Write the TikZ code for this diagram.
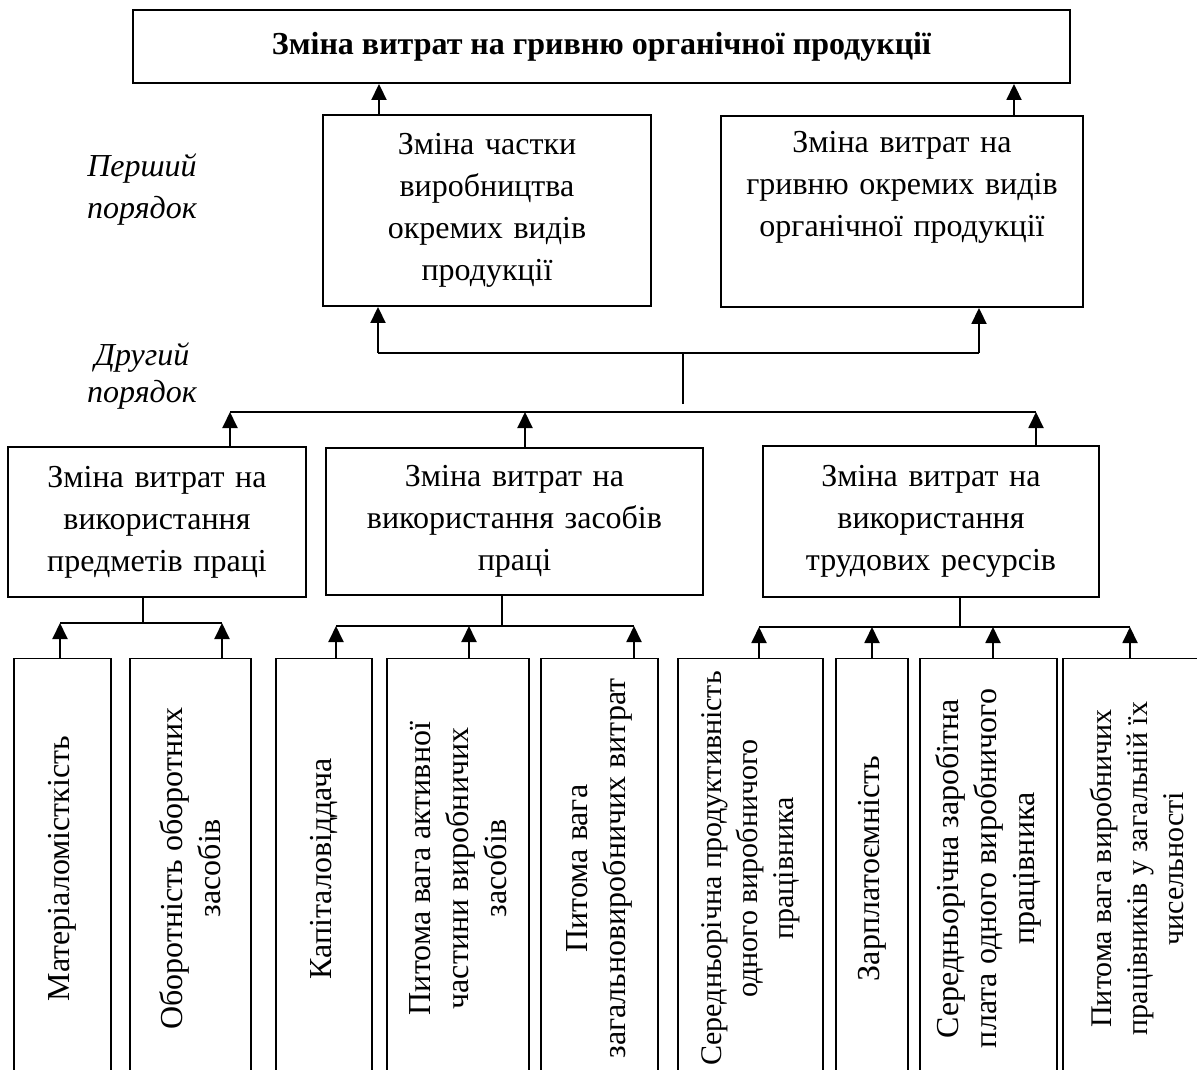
\documentclass[tikz,border=0pt]{standalone}
\usepackage{fontspec}
\usepackage{graphicx}
\setmainfont{Liberation Serif}
\usetikzlibrary{arrows.meta}
\newcommand{\vtext}[1]{\rotatebox{90}{\parbox{420pt}{\centering #1}}}
\begin{document}
\begin{tikzpicture}[x=1pt,y=-1pt,
  box/.style={draw,line width=1.9pt,rectangle,inner sep=0pt,align=center,
              font=\fontsize{32}{42}\selectfont},
  vbox/.style={draw,line width=1.9pt,rectangle,inner sep=0pt,
              minimum height=413pt,font=\fontsize{32}{38}\selectfont},
  small/.style={font=\fontsize{30}{36}\selectfont},
  con/.style={line width=1.9pt},
  arr/.style={line width=1.9pt,-{Triangle[length=16pt,width=15pt]}},
  lab/.style={align=center,font=\fontsize{32}{42}\selectfont\itshape},
]
\useasboundingbox (0,0) rectangle (1197,1070);
\clip (0,0) rectangle (1197,1070);
\fill[white] (0,0) rectangle (1197,1070);

% top
\node[box,minimum width=937pt,minimum height=73pt,font=\fontsize{32}{42}\selectfont\bfseries]
  (top) at (601.5,46.5) {Зміна витрат на гривню органічної продукції};

% first order
\node[box,minimum width=328pt,minimum height=191pt,text width=320pt] (b1) at (487,210.5)
  {Зміна частки\\ виробництва\\ окремих видів\\ продукції};
\node[box,minimum width=362pt,minimum height=191pt,text width=354pt] (b2) at (902,211.5)
  {Зміна витрат на\\ гривню окремих видів\\ органічної продукції\\ \strut};

\node[lab] (l1) at (142,190) {Перший\\ порядок};
\node[lab,font=\fontsize{32}{37}\selectfont\itshape] (l2) at (142,376) {Другий\\ порядок};

% second order
\node[box,minimum width=298pt,minimum height=150pt,text width=290pt] (bA) at (157,522)
  {Зміна витрат на\\ використання\\ предметів праці};
\node[box,minimum width=377pt,minimum height=147pt,text width=369pt] (bB) at (514.5,521.5)
  {Зміна витрат на\\ використання засобів\\ праці};
\node[box,minimum width=336pt,minimum height=151pt,text width=328pt] (bC) at (931,521.5)
  {Зміна витрат на\\ використання\\ трудових ресурсів};

% third level
\node[vbox,minimum width=97pt] (v1) at (62.5,868.5) {\vtext{Матеріаломісткість}};
\node[vbox,minimum width=121pt] (v2) at (190.5,868.5) {\vtext{Оборотність оборотних\\ засобів}};
\node[vbox,minimum width=96pt] (v3) at (324,868.5) {\vtext{Капіталовіддача}};
\node[vbox,minimum width=142pt] (v4) at (458,868.5) {\vtext{Питома вага активної\\ частини виробничих\\ засобів}};
\node[vbox,minimum width=117pt] (v5) at (599.5,868.5) {\vtext{Питома вага\\ загальновиробничих витрат}};
\node[vbox,small,minimum width=145pt] (v6) at (750.5,868.5) {\vtext{Середньорічна продуктивність\\ одного виробничого\\ працівника}};
\node[vbox,minimum width=72pt] (v7) at (872,868.5) {\vtext{Зарплатоємність}};
\node[vbox,minimum width=137pt] (v8) at (988.5,868.5) {\vtext{Середньорічна заробітна\\ плата одного виробничого\\ працівника}};
\node[vbox,small,minimum width=148pt] (v9) at (1137,868.5) {\vtext{Питома вага виробничих\\ працівників у загальній їх\\ чисельності}};

% arrows to top
\draw[arr] (b1.north -| 379,0) -- (top.south -| 379,0);
\draw[arr] (b2.north -| 1014,0) -- (top.south -| 1014,0);

% bus 1
\coordinate (p1L) at (378,353);
\coordinate (p1R) at (979,353);
\coordinate (j1) at (683,404);
\draw[con] (p1L) -- (p1R);
\draw[arr] (p1L) -- (b1.south -| p1L);
\draw[arr] (p1R) -- (b2.south -| p1R);
\draw[con] (j1) -- (j1 |- p1L);

% bus 2
\coordinate (p2L) at (230,412);
\coordinate (p2M) at (525,412);
\coordinate (p2R) at (1036,412);
\draw[con] (p2L) -- (p2R);
\draw[arr] (bA.north -| p2L) -- (p2L);
\draw[arr] (bB.north -| p2M) -- (p2M);
\draw[arr] (bC.north -| p2R) -- (p2R);

% bus A
\coordinate (qA) at (143,623);
\coordinate (qA1) at (60,623);
\coordinate (qA2) at (222,623);
\draw[con] (bA.south -| qA) -- (qA);
\draw[con] (qA1) -- (qA2);
\draw[arr] (v1.north -| qA1) -- (qA1);
\draw[arr] (v2.north -| qA2) -- (qA2);

% bus B
\coordinate (qB) at (502,626);
\coordinate (qB1) at (336,626);
\coordinate (qB2) at (469,626);
\coordinate (qB3) at (634,626);
\draw[con] (bB.south -| qB) -- (qB);
\draw[con] (qB1) -- (qB3);
\draw[arr] (v3.north -| qB1) -- (qB1);
\draw[arr] (v4.north -| qB2) -- (qB2);
\draw[arr] (v5.north -| qB3) -- (qB3);

% bus C
\coordinate (qC) at (960,627);
\coordinate (qC1) at (759,627);
\coordinate (qC2) at (872,627);
\coordinate (qC3) at (993,627);
\coordinate (qC4) at (1130,627);
\draw[con] (bC.south -| qC) -- (qC);
\draw[con] (qC1) -- (qC4);
\draw[arr] (v6.north -| qC1) -- (qC1);
\draw[arr] (v7.north -| qC2) -- (qC2);
\draw[arr] (v8.north -| qC3) -- (qC3);
\draw[arr] (v9.north -| qC4) -- (qC4);
\end{tikzpicture}
\end{document}
